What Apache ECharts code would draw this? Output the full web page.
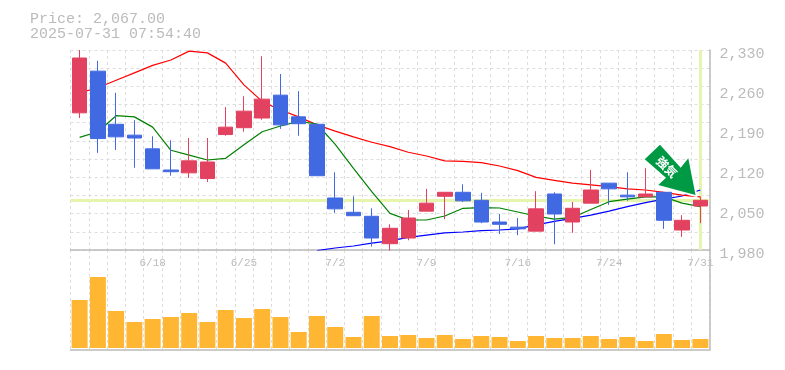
<!DOCTYPE html>
<html><head><meta charset="utf-8">
<style>html,body{margin:0;padding:0;background:#fff}#c{width:785px;height:370px}</style>
<script src="https://cdn.jsdelivr.net/npm/echarts@6/dist/echarts.min.js"></script>
</head><body><div id="c"></div>
<script>
const dates = ['6/12','6/13','6/16','6/17','6/18','6/19','6/20','6/23','6/24','6/25','6/26','6/27','6/30','7/1','7/2','7/3','7/4','7/7','7/8','7/9','7/10','7/11','7/14','7/15','7/16','7/17','7/18','7/22','7/23','7/24','7/25','7/28','7/29','7/30','7/31'];
// [open, close, low, high]
const ohlc = [
[2220,2316,2211,2330],[2293,2175,2150,2311],[2200,2178,2155,2255],[2181,2176,2124,2207],[2157,2122,2122,2179],[2120,2117,2110,2172],[2115,2136,2106,2176],[2105,2134,2099,2176],
[2182,2195,2180,2230],[2194,2223,2187,2249],[2211,2244,2208,2319],[2251,2199,2192,2288],[2213,2201,2180,2258],[2200,2110,2110,2200],
[2071,2052,2045,2116],[2046,2040,2040,2074],[2039,2001,1986,2053],[1991,2018,1979,2025],
[2001,2036,1997,2050],[2048,2062,2048,2087],[2074,2081,2034,2081],[2081,2066,2064,2095],[2067,2029,2027,2080],[2029,2025,2008,2043],[2020,2017,2006,2036],
[2013,2052,2013,2083],[2078,2043,1990,2081],[2029,2053,2010,2064],[2062,2085,2062,2120],[2097,2087,2059,2097],[2076,2073,2066,2116],[2073,2078,2073,2123],[2081,2032,2017,2081],[2015,2032,2003,2041],
[2057,2067,2027,2073]];
const ma5 = [2177,2187,2215,2213,2195,2154.5,2146,2137.5,2140.5,2164,2187,2197,2205,2200.5,2165,2123,2082,2044,2032.5,2032.5,2039.5,2053,2054,2053.5,2046.5,2039.5,2034,2037,2051,2064.5,2069,2073,2073,2062,2056];
const ma25 = [2255,2264,2277,2290,2303,2312.5,2328,2325,2307,2269,2240,2225,2213,2199,2188,2178,2168.5,2161,2151,2144.5,2136,2135,2133,2127,2119,2107,2102,2097,2094,2091,2087,2085,2081,2076,2073];
const ma75 = [null,null,null,null,null,null,null,null,null,null,null,null,null,1979,1983.5,1987,1992,1996,2002,2006,2010,2011.5,2014,2015,2017,2024,2030,2035.5,2041,2048,2056,2063,2069,2074.5,2085];
const volume = [48,71,37,26,29,31,35,26,38,30,39,31,16,32,21,11,32,12,13,10,13,9,12,11,7,12,10,10,12,9,11,7,14,8,9];
const priceTicks = [1980,2050,2120,2190,2260,2330];
const currentPrice = 2067;
const lastDate = '7/31';
const header = 'Price: 2,067.00\n2025-07-31 07:54:40';
const signal = '強気';

const GRAY='#bbbbbb', GRID='#dddddd', UP='#e2415f', DOWN='#4169e1', HI='#e6f5ae';
const mono='"Liberation Mono", monospace';
const chart = echarts.init(document.getElementById('c'),null,{renderer:'canvas'});
const L=70.5, W=639;
const arrow=[[644.7,159.3],[660,144.7],[680.7,167.7],[688.3,158.3],[695.5,195],[658.3,185],[666,177.7]];
chart.setOption({
  animation:false,
  backgroundColor:'#fff',
  title:{text:header,left:30,top:12,padding:0,textStyle:{fontFamily:mono,fontSize:15,fontWeight:'normal',color:GRAY,lineHeight:15}},
  grid:[
    {left:L,top:50,width:W,height:200},
    {left:L,top:250,width:W,height:100}
  ],
  xAxis:[
    {type:'category',gridIndex:0,data:dates,boundaryGap:true,
     axisLine:{show:true,lineStyle:{color:GRAY,width:1.5}},axisTick:{show:false},axisLabel:{show:false},
     splitLine:{show:true,interval:0,lineStyle:{color:GRID,type:[3,3]}}},
    {type:'category',gridIndex:1,data:dates,boundaryGap:true,
     axisLine:{show:true,onZero:false,lineStyle:{color:GRAY,width:1.5}},axisTick:{show:false},
     axisLabel:{show:false},
     splitLine:{show:true,interval:0,lineStyle:{color:GRID,type:[3,3]}}},
    {type:'category',gridIndex:1,data:dates,boundaryGap:true,position:'top',
     axisLine:{show:false},axisTick:{show:false},
     axisLabel:{show:true,inside:true,interval:(i)=>i%5===4,margin:8,hideOverlap:false,showMaxLabel:true,
       fontFamily:mono,fontSize:11,color:GRAY,verticalAlign:'top'},
     splitLine:{show:false}}
  ],
  yAxis:[
    {type:'value',gridIndex:0,position:'right',min:1980,max:2330,interval:70,
     axisLine:{show:true,onZero:false,lineStyle:{color:GRAY,width:1.5}},axisTick:{show:false},
     axisLabel:{show:true,margin:10,fontFamily:mono,fontSize:15,color:GRAY,verticalAlign:'top',lineHeight:8,
       formatter:v=>priceTicks.includes(v)?v.toLocaleString('en-US'):''},
     splitLine:{show:false}},
    {type:'value',gridIndex:0,position:'left',min:0,max:11,interval:1,
     axisLine:{show:false},axisTick:{show:false},axisLabel:{show:false},
     splitLine:{show:true,lineStyle:{color:GRID,type:[3,3]}}},
    {type:'value',gridIndex:1,position:'right',min:-2,max:98,
     axisLine:{show:true,onZero:false,lineStyle:{color:GRAY,width:1.5}},axisTick:{show:false},axisLabel:{show:false},splitLine:{show:false}}
  ],
  series:[
    {type:'line',name:'current',xAxisIndex:0,yAxisIndex:0,data:[],z:2,silent:true,
     markLine:{silent:true,symbol:'none',label:{show:false},animation:false,z:2,
       lineStyle:{color:HI,width:3,type:'solid'},
       data:[{yAxis:currentPrice},{xAxis:lastDate}]}},
    {type:'line',name:'MA75',xAxisIndex:0,yAxisIndex:0,data:ma75,showSymbol:false,z:3,clip:true,lineStyle:{color:'#0000ff',width:1.2}},
    {type:'line',name:'MA25',xAxisIndex:0,yAxisIndex:0,data:ma25,showSymbol:false,z:3,clip:true,lineStyle:{color:'#ff0000',width:1.2}},
    {type:'line',name:'MA5',xAxisIndex:0,yAxisIndex:0,data:ma5,showSymbol:false,z:3,clip:true,lineStyle:{color:'#008000',width:1.2}},
    {type:'candlestick',name:'price',xAxisIndex:0,yAxisIndex:0,data:ohlc,barWidth:15,z:4,clip:false,
     itemStyle:{color:UP,color0:DOWN,borderColor:UP,borderColor0:DOWN,borderWidth:1}},
    {type:'bar',name:'volume',xAxisIndex:1,yAxisIndex:2,data:volume,barWidth:16,z:3,itemStyle:{color:'#ffb733'}}
  ],
  graphic:[{
    type:'group',z:100,children:[
      {type:'polygon',z:100,shape:{points:arrow},style:{fill:'#ffffff',stroke:'#ffffff',lineWidth:3.5}},
      {type:'polygon',z:101,shape:{points:arrow},style:{fill:'#009944'}},
      {type:'text',z:102,x:667,y:167,rotation:-Math.PI/4,
       style:{text:signal,fontFamily:'"Noto Sans CJK JP"',fontSize:12,fontWeight:'bold',fill:'#fff',align:'center',verticalAlign:'middle'}}
    ]
  }]
});
</script></body></html>
